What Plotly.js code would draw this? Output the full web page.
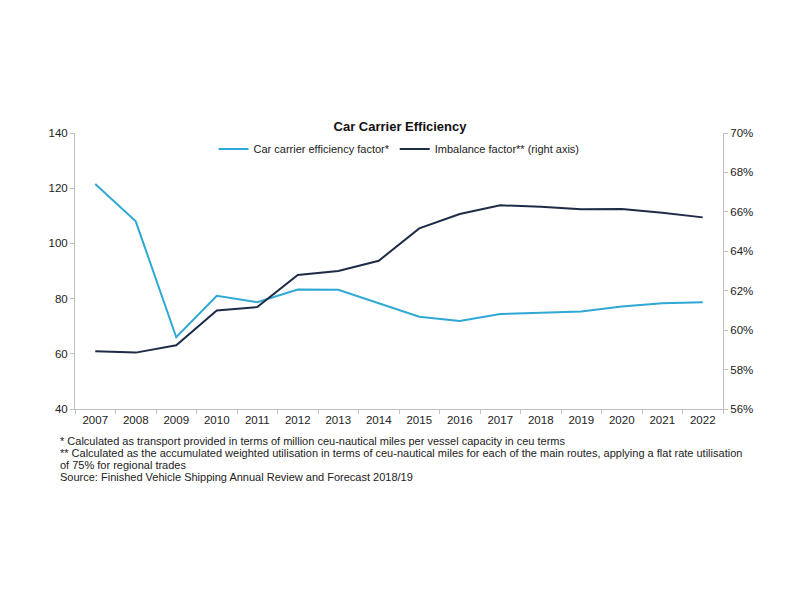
<!DOCTYPE html>
<html>
<head>
<meta charset="utf-8">
<script src="https://cdn.plot.ly/plotly-3.0.1.min.js"></script>
<style>html,body{margin:0;padding:0;background:#fff;}#chart{width:800px;height:600px;}</style>
</head>
<body>
<div id="chart"></div>
<script>
const years = ["2007","2008","2009","2010","2011","2012","2013","2014","2015","2016","2017","2018","2019","2020","2021","2022"];
const efficiency = [121.5, 108, 66, 81, 78.7, 83.3, 83.2, 78.2, 73.4, 71.9, 74.4, 74.9, 75.3, 77.1, 78.3, 78.7];
const imbalance = [0.5893, 0.5886, 0.5923, 0.6100, 0.6117, 0.6280, 0.6300, 0.6352, 0.6516, 0.6589, 0.6633, 0.6626, 0.6613, 0.6615, 0.6596, 0.6572];
const seriesNames = ["Car carrier efficiency factor*", "Imbalance factor** (right axis)"];
const footnotes = [
  "* Calculated as transport provided in terms of million ceu-nautical miles per vessel capacity in ceu terms",
  "** Calculated as the accumulated weighted utilisation in terms of ceu-nautical miles for each of the main routes, applying a flat rate utilisation",
  "of 75% for regional trades",
  "Source: Finished Vehicle Shipping Annual Review and Forecast 2018/19"
];

const font = "Liberation Sans, Arial, sans-serif";
const axisCol = "#bfbfbf";
const plotH = 600 - 133 - 191;

const traces = [
  {x: years, y: efficiency, name: seriesNames[0], type: "scatter", mode: "lines",
   line: {color: "#2fa8d5", width: 2}, yaxis: "y"},
  {x: years, y: imbalance, name: seriesNames[1], type: "scatter", mode: "lines",
   line: {color: "#1e2c48", width: 2}, yaxis: "y2"}
];

const annotations = footnotes.map((t, i) => ({
  text: t, xref: "paper", yref: "paper", x: -0.026, y: -(441 - 409 + i * 12) / plotH,
  xanchor: "left", yanchor: "middle", showarrow: false, align: "left",
  font: {family: font, size: 11, color: "#222"}
}));

const layout = {
  width: 800, height: 600,
  margin: {l: 75, r: 77, t: 133, b: 191},
  paper_bgcolor: "#fff", plot_bgcolor: "#fff",
  font: {family: font, size: 11, color: "#222"},
  title: {text: "<b>Car Carrier Efficiency</b>", font: {family: font, size: 13, color: "#111"},
          x: 0.5, xanchor: "center", y: 1 - 126/600, yanchor: "middle"},
  showlegend: true,
  legend: {orientation: "h", x: 0.5, xanchor: "center", y: (409 - 149) / plotH, yanchor: "middle",
           font: {family: font, size: 11, color: "#222"}, bgcolor: "rgba(0,0,0,0)",
           itemwidth: 30, tracegroupgap: 0},
  xaxis: {type: "category", range: [-0.5, 15.5], showline: true, linecolor: axisCol, linewidth: 1,
          ticks: "outside", tickson: "boundaries", ticklen: 4, tickcolor: axisCol,
          showgrid: false, zeroline: false, tickfont: {family: font, size: 11.5, color: "#222"}},
  yaxis: {range: [40, 140], dtick: 20, showline: true, linecolor: axisCol, linewidth: 1,
          ticks: "outside", ticklen: 4, tickcolor: axisCol, showgrid: false, zeroline: false,
          tickfont: {family: font, size: 11.5, color: "#222"}},
  yaxis2: {range: [0.56, 0.70], dtick: 0.02, tickformat: ".0%", overlaying: "y", side: "right",
           showline: true, linecolor: axisCol, linewidth: 1, ticks: "outside", ticklen: 4,
           tickcolor: axisCol, showgrid: false, zeroline: false,
           tickfont: {family: font, size: 11.5, color: "#222"}},
  annotations: annotations
};

Plotly.newPlot("chart", traces, layout, {displayModeBar: false, staticPlot: true});
</script>
</body>
</html>
